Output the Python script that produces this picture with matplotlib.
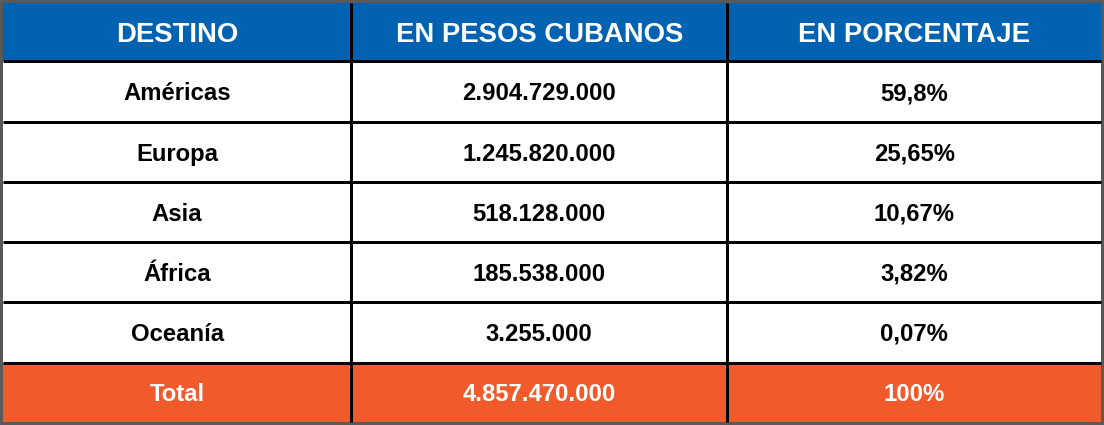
import matplotlib.pyplot as plt
from matplotlib.patches import Rectangle


# Datos de la tabla
encabezados = ["DESTINO", "EN PESOS CUBANOS", "EN PORCENTAJE"]
destinos = ["Américas", "Europa", "Asia", "África", "Oceanía"]
pesos = [2904729000, 1245820000, 518128000, 185538000, 3255000]
porcentajes = [59.8, 25.65, 10.67, 3.82, 0.07]
total_label = "Total"
total_pesos = 4857470000
total_porcentaje = 100

BLUE = "#0062b0"
ORANGE = "#f15a2a"
BORDER = "#595959"
FONT = "Liberation Sans"

W, H = 1104, 425
LEFT, RIGHT, TOP, BOTTOM = 3, 1101, 3, 422
HEADER_BOTTOM = 61.3
COL_EDGES = [LEFT, 351.3, 727.3, RIGHT]
ROW_LINES = [61.3, 122, 182, 242, 302, 362.5]
LINE_W = 3 * 72 / 100  # 3 px at 100 dpi

HEADER_SIZE = 19.8
BODY_SIZE = 17.2


def fmt_miles(value):
    return f"{value:,}".replace(",", ".")


def fmt_pct(value):
    return f"{value:g}".replace(".", ",") + "%"


def put_text(ax, x, y_center, text, size_pt, color):
    # centrar segun la altura de las mayusculas
    size_px = size_pt * 100 / 72
    baseline = y_center + 0.358 * size_px
    ax.text(x, baseline, text, ha="center", va="baseline", fontsize=size_pt,
            fontweight="bold", color=color, family=FONT)


def main():
    fig = plt.figure(figsize=(W / 100, H / 100), dpi=100, facecolor=BORDER)
    ax = fig.add_axes([0, 0, 1, 1])
    ax.set_xlim(0, W)
    ax.set_ylim(H, 0)
    ax.axis("off")

    # fondos
    ax.add_patch(Rectangle((LEFT, TOP), RIGHT - LEFT, HEADER_BOTTOM - TOP, color=BLUE, lw=0))
    ax.add_patch(Rectangle((LEFT, HEADER_BOTTOM), RIGHT - LEFT, ROW_LINES[-1] - HEADER_BOTTOM,
                           color="white", lw=0))
    ax.add_patch(Rectangle((LEFT, ROW_LINES[-1]), RIGHT - LEFT, BOTTOM - ROW_LINES[-1],
                           color=ORANGE, lw=0))

    # lineas
    for y in ROW_LINES:
        ax.plot([LEFT, RIGHT], [y, y], color="black", lw=LINE_W, solid_capstyle="butt")
    for x in COL_EDGES[1:-1]:
        ax.plot([x, x], [TOP, BOTTOM], color="black", lw=LINE_W, solid_capstyle="butt")

    col_centers = [(COL_EDGES[i] + COL_EDGES[i + 1]) / 2 for i in range(3)]

    # encabezado
    for cx, label in zip(col_centers, encabezados):
        put_text(ax, cx, (TOP + HEADER_BOTTOM) / 2, label, HEADER_SIZE, "white")

    # filas
    for i, (dest, p, pct) in enumerate(zip(destinos, pesos, porcentajes)):
        yc = (ROW_LINES[i] + ROW_LINES[i + 1]) / 2
        for cx, txt in zip(col_centers, [dest, fmt_miles(p), fmt_pct(pct)]):
            put_text(ax, cx, yc, txt, BODY_SIZE, "black")

    # total
    yc = (ROW_LINES[-1] + BOTTOM) / 2
    for cx, txt in zip(col_centers, [total_label, fmt_miles(total_pesos), fmt_pct(total_porcentaje)]):
        put_text(ax, cx, yc, txt, BODY_SIZE, "white")

    fig.savefig("out.png", dpi=100, facecolor=BORDER)
    plt.close(fig)


if __name__ == "__main__":
    main()
